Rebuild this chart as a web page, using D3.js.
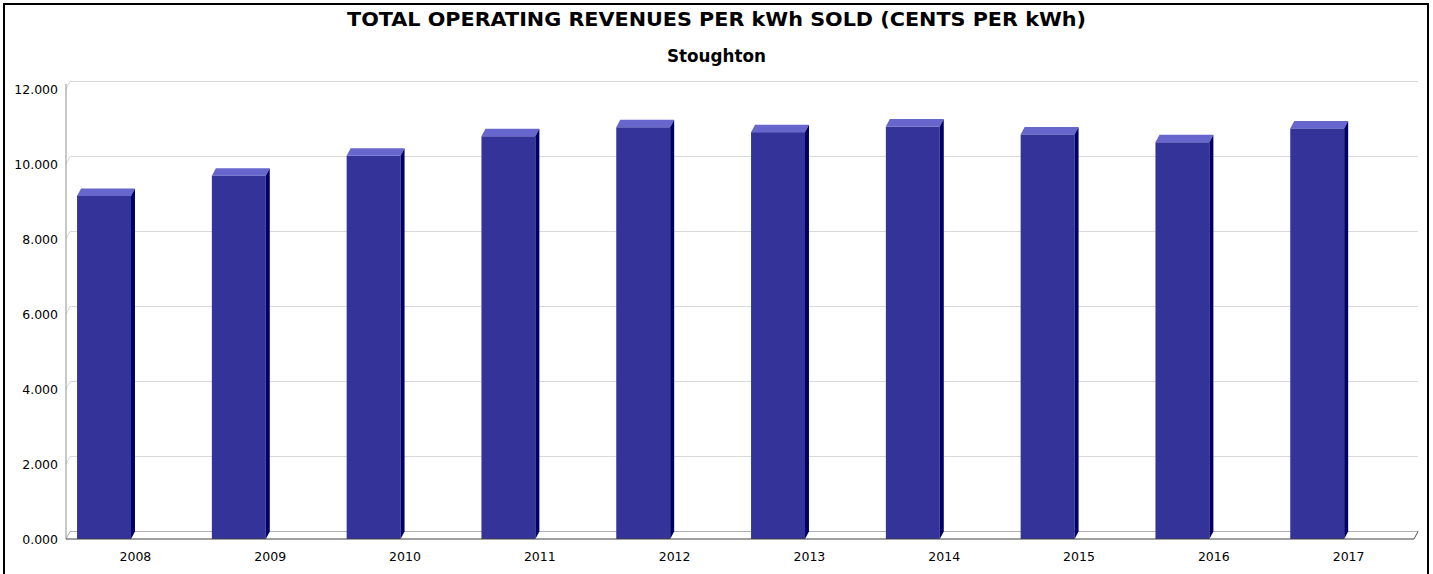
<!DOCTYPE html>
<html>
<head>
<meta charset="utf-8">
<script src="https://cdn.jsdelivr.net/npm/d3@7"></script>
<style>
  body { margin: 0; background: #fff; }
  svg { display: block; }
  .tick-label { font-family: 'DejaVu Sans', sans-serif; font-size: 12.5px; fill: #000; }
</style>
</head>
<body>
<div id="chart"></div>
<script>
// data
var years = ['2008', '2009', '2010', '2011', '2012', '2013', '2014', '2015', '2016', '2017'];
var values = [9.15, 9.69, 10.22, 10.74, 10.98, 10.85, 11.0, 10.79, 10.58, 10.95];
var yTicks = [0, 2, 4, 6, 8, 10, 12];

var width = 1433, height = 574;
var depthX = 4, depthY = 7.5;

var svg = d3.select('#chart')
  .append('svg')
  .attr('width', width)
  .attr('height', height);

// outer frame
svg.append('rect')
  .attr('x', 4).attr('y', 4)
  .attr('width', 1424).attr('height', 620)
  .attr('fill', 'none')
  .attr('stroke', '#000')
  .attr('stroke-width', 2);

// titles
svg.append('text')
  .attr('x', width / 2).attr('y', 26)
  .attr('text-anchor', 'middle')
  .attr('textLength', 739)
  .attr('lengthAdjust', 'spacingAndGlyphs')
  .style('font-family', "'DejaVu Sans', sans-serif")
  .style('font-weight', 'bold')
  .style('font-size', '19.5px')
  .text('TOTAL OPERATING REVENUES PER kWh SOLD (CENTS PER kWh)');

svg.append('text')
  .attr('x', 716.5).attr('y', 61.5)
  .attr('text-anchor', 'middle')
  .attr('textLength', 99)
  .attr('lengthAdjust', 'spacingAndGlyphs')
  .style('font-family', "'DejaVu Sans', sans-serif")
  .style('font-weight', 'bold')
  .style('font-size', '17.5px')
  .text('Stoughton');

// scales
var xScale = d3.scaleBand().domain(years).range([66, 1414]);
var yScale = d3.scaleLinear().domain([0, 12]).range([539, 89]);
var y0 = yScale(0);
var xLeft = xScale.range()[0], xRight = xScale.range()[1];

// gridlines on back wall, bending onto the left wall
svg.append('g')
  .selectAll('path')
  .data(yTicks)
  .enter()
  .append('path')
  .attr('d', function (d) {
    var yf = yScale(d), yb = yf - depthY;
    return 'M' + xLeft + ',' + yf + 'L' + (xLeft + depthX) + ',' + yb + 'L' + (xRight + depthX) + ',' + yb;
  })
  .attr('fill', 'none')
  .attr('stroke', function (d) { return d === 0 ? '#b0b0b0' : '#d9d9d9'; })
  .attr('stroke-width', 1);

// floor right edge
svg.append('line')
  .attr('x1', xRight).attr('y1', y0)
  .attr('x2', xRight + depthX).attr('y2', y0 - depthY)
  .attr('stroke', '#555');

// left wall line
svg.append('line')
  .attr('x1', xLeft).attr('y1', yScale(12) - 5)
  .attr('x2', xLeft).attr('y2', y0)
  .attr('stroke', '#909090');

// y tick labels
svg.append('g')
  .selectAll('text')
  .data(yTicks)
  .enter()
  .append('text')
  .attr('class', 'tick-label')
  .attr('x', 58)
  .attr('y', function (d) { return yScale(d) + 4.5; })
  .attr('text-anchor', 'end')
  .text(function (d) { return d3.format('.3f')(d); });

// bars
var bw = xScale.bandwidth() * 0.4;
var bOff = xScale.bandwidth() * 0.082;

var bars = svg.append('g')
  .selectAll('g')
  .data(years)
  .enter()
  .append('g');

bars.append('rect')
  .attr('x', function (d) { return xScale(d) + bOff; })
  .attr('y', function (d, i) { return yScale(values[i]); })
  .attr('width', bw)
  .attr('height', function (d, i) { return y0 - yScale(values[i]); })
  .attr('fill', '#333399');

bars.append('path')
  .attr('d', function (d, i) {
    var x = xScale(d) + bOff, y = yScale(values[i]);
    return 'M' + x + ',' + y + 'L' + (x + depthX) + ',' + (y - depthY) +
      'L' + (x + bw + depthX) + ',' + (y - depthY) + 'L' + (x + bw) + ',' + y + 'Z';
  })
  .attr('fill', '#6666cc');

bars.append('path')
  .attr('d', function (d, i) {
    var x = xScale(d) + bOff + bw, y = yScale(values[i]);
    return 'M' + x + ',' + y + 'L' + (x + depthX) + ',' + (y - depthY) +
      'L' + (x + depthX) + ',' + (y0 - depthY) + 'L' + x + ',' + y0 + 'Z';
  })
  .attr('fill', '#000066');

// front axis line
svg.append('line')
  .attr('x1', xLeft).attr('y1', y0)
  .attr('x2', xRight).attr('y2', y0)
  .attr('stroke', '#404040');

// x labels
svg.append('g')
  .selectAll('text')
  .data(years)
  .enter()
  .append('text')
  .attr('class', 'tick-label')
  .attr('x', function (d) { return xScale(d) + xScale.bandwidth() / 2 + 2; })
  .attr('y', 561)
  .attr('text-anchor', 'middle')
  .text(function (d) { return d; });
</script>
</body>
</html>
